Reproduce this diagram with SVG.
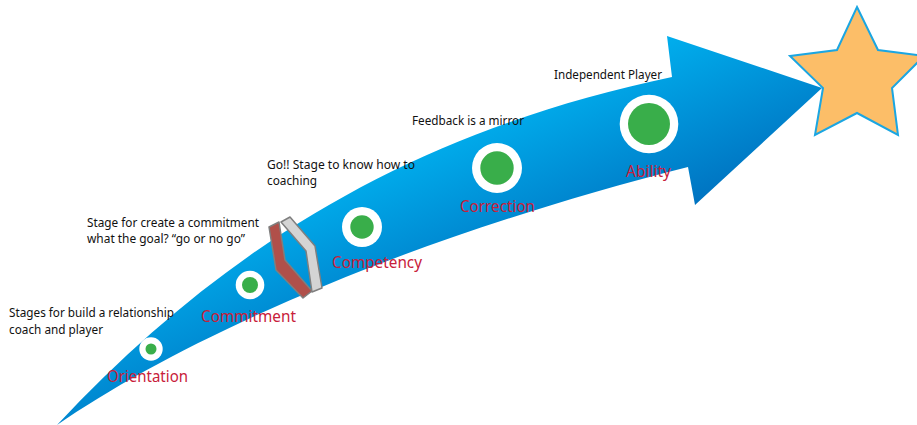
<svg xmlns="http://www.w3.org/2000/svg" width="917" height="425" viewBox="0 0 917 425">
<defs>
<linearGradient id="arrowGrad" gradientUnits="userSpaceOnUse" x1="115" y1="265" x2="187" y2="430">
<stop offset="0" stop-color="#00B2F0"/>
<stop offset="1" stop-color="#0072C0"/>
</linearGradient>
<style>
.ring{fill:#ffffff}
.dot{fill:#39AE4A}
.lbl{font-family:"Noto Sans","Open Sans",sans-serif;font-size:16px;fill:#C8203A}
.note{font-family:"Noto Sans","Open Sans",sans-serif;font-size:12px;fill:#111111}
.strip{stroke:#7F7F7F;stroke-width:1.5;stroke-linejoin:round}
</style>
</defs>
<rect width="917" height="425" fill="#ffffff"/>
<g id="arrow">
<path d="M57,425 C230,240 420,130 672,77 L667,36 L822,88 L695,205 L688,167 C400,240 180,340 57,425 Z" fill="url(#arrowGrad)"/>
</g>
<g id="star">
<polygon points="857,7 878,50 924,56 892,88 898,135 857,113 815,135 823,88 790,56 837,50" fill="#FCBE68" stroke="#1BA6E2" stroke-width="2" stroke-linejoin="miter"/>
</g>
<g id="bracket">
<polygon class="strip" points="269,227 279,222 285,260 312,291 303,298 276,270" fill="#B0504A"/>
<polygon class="strip" points="281,222 290,217 315,246 322,288 312,292 306,251" fill="#D4D4D4"/>
</g>
<g id="orientation">
<circle class="ring" cx="151" cy="349" r="11.7"/>
<circle class="dot" cx="151" cy="349" r="5.5"/>
<text class="lbl" x="107" y="382" textLength="81" lengthAdjust="spacingAndGlyphs">Orientation</text>
<text class="note" x="9" y="317" textLength="165" lengthAdjust="spacingAndGlyphs">Stages for build a relationship</text>
<text class="note" x="9" y="334" textLength="94" lengthAdjust="spacingAndGlyphs">coach and player</text>
</g>
<g id="commitment">
<circle class="ring" cx="250" cy="285" r="14.3"/>
<circle class="dot" cx="250" cy="285" r="8"/>
<text class="lbl" x="201" y="322" textLength="95" lengthAdjust="spacingAndGlyphs">Commitment</text>
<text class="note" x="87" y="227" textLength="172" lengthAdjust="spacingAndGlyphs">Stage for create a commitment</text>
<text class="note" x="87" y="243" textLength="158" lengthAdjust="spacingAndGlyphs">what the goal? “go or no go”</text>
</g>
<g id="competency">
<circle class="ring" cx="362" cy="227" r="20"/>
<circle class="dot" cx="362" cy="227" r="11.7"/>
<text class="lbl" x="332" y="268" textLength="90" lengthAdjust="spacingAndGlyphs">Competency</text>
<text class="note" x="267" y="169" textLength="148" lengthAdjust="spacingAndGlyphs">Go!! Stage to know how to</text>
<text class="note" x="267" y="185" textLength="50" lengthAdjust="spacingAndGlyphs">coaching</text>
</g>
<g id="correction">
<circle class="ring" cx="497" cy="168" r="25"/>
<circle class="dot" cx="497" cy="168" r="16.7"/>
<text class="lbl" x="460" y="212" textLength="75" lengthAdjust="spacingAndGlyphs">Correction</text>
<text class="note" x="412" y="125" textLength="112" lengthAdjust="spacingAndGlyphs">Feedback is a mirror</text>
</g>
<g id="ability">
<circle class="ring" cx="649" cy="124" r="29.3"/>
<circle class="dot" cx="649" cy="124" r="21"/>
<text class="lbl" x="626" y="177" textLength="45" lengthAdjust="spacingAndGlyphs">Ability</text>
<text class="note" x="554" y="79" textLength="108" lengthAdjust="spacingAndGlyphs">Independent Player</text>
</g>
<g id="connectors"></g>
</svg>
